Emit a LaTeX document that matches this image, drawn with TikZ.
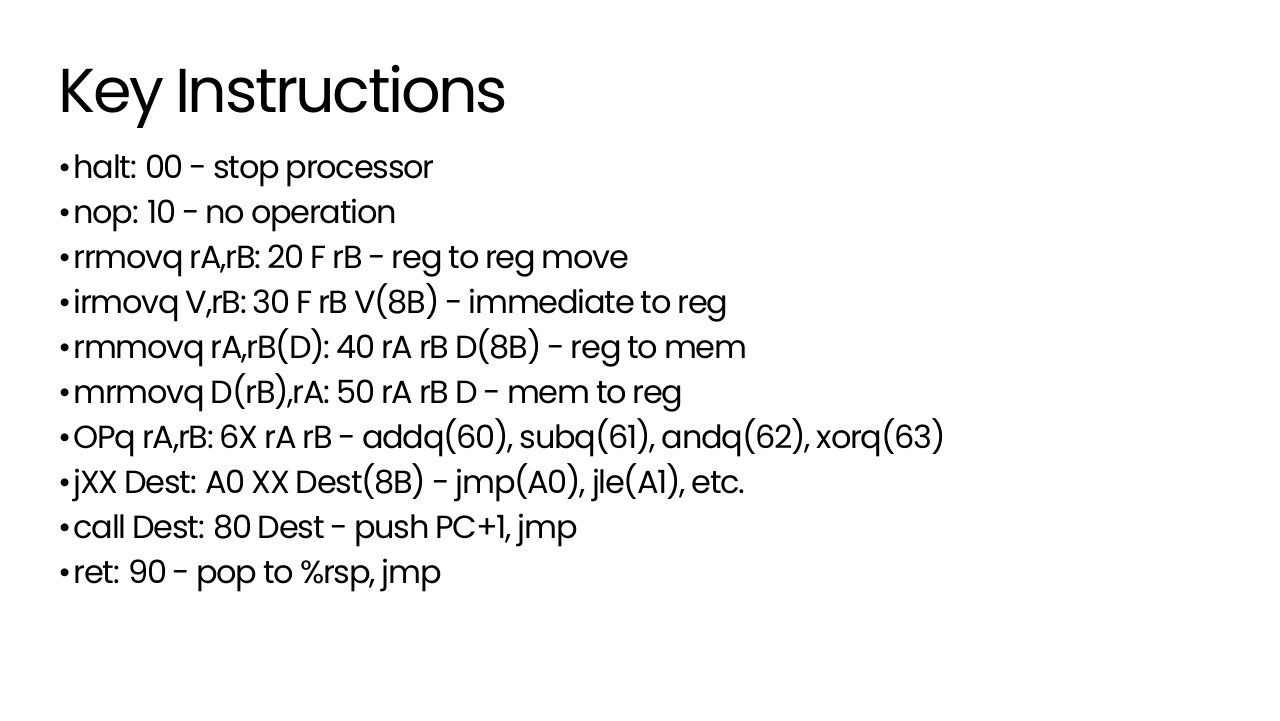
\documentclass[tikz,border=0pt]{standalone}
\usepackage{fontspec}
\setmainfont{Poppins}[LetterSpace=-4,WordSpace=0.8]
\usetikzlibrary{positioning}
\tikzset{
  titel/.style={anchor=base west,inner sep=0pt,font=\fontsize{31}{34}\selectfont},
  zeile/.style={anchor=base west,inner sep=0pt,font=\fontsize{16}{19}\selectfont}
}
\begin{document}
\begin{tikzpicture}[x=0.5pt,y=-0.5pt]
\useasboundingbox (0,0) rectangle (1280,720);
% Überschrift
\node[titel] (T) at (58,112) {Key Instructions};
% Befehle
\foreach \text [count=\i] in {%
  halt: 00 - stop processor,
  nop: 10 - no operation,
  rrmovq rA{,}rB: 20 F rB - reg to reg move,
  irmovq V{,}rB: 30 F rB V(8B) - immediate to reg,
  rmmovq rA{,}rB(D): 40 rA rB D(8B) - reg to mem,
  mrmovq D(rB){,}rA: 50 rA rB D - mem to reg,
  OPq rA{,}rB: 6X rA rB - addq(60){,} subq(61){,} andq(62){,} xorq(63),
  jXX Dest: A0 XX Dest(8B) - jmp(A0){,} jle(A1){,} etc.,
  call Dest: 80 Dest - push PC+1{,} jmp,
  ret: 90 - pop to \%rsp{,} jmp}{%
  \node[zeile] (b\i) at (58,133+45*\i) {\textbullet\kern1pt\text};
}
\end{tikzpicture}
\end{document}
